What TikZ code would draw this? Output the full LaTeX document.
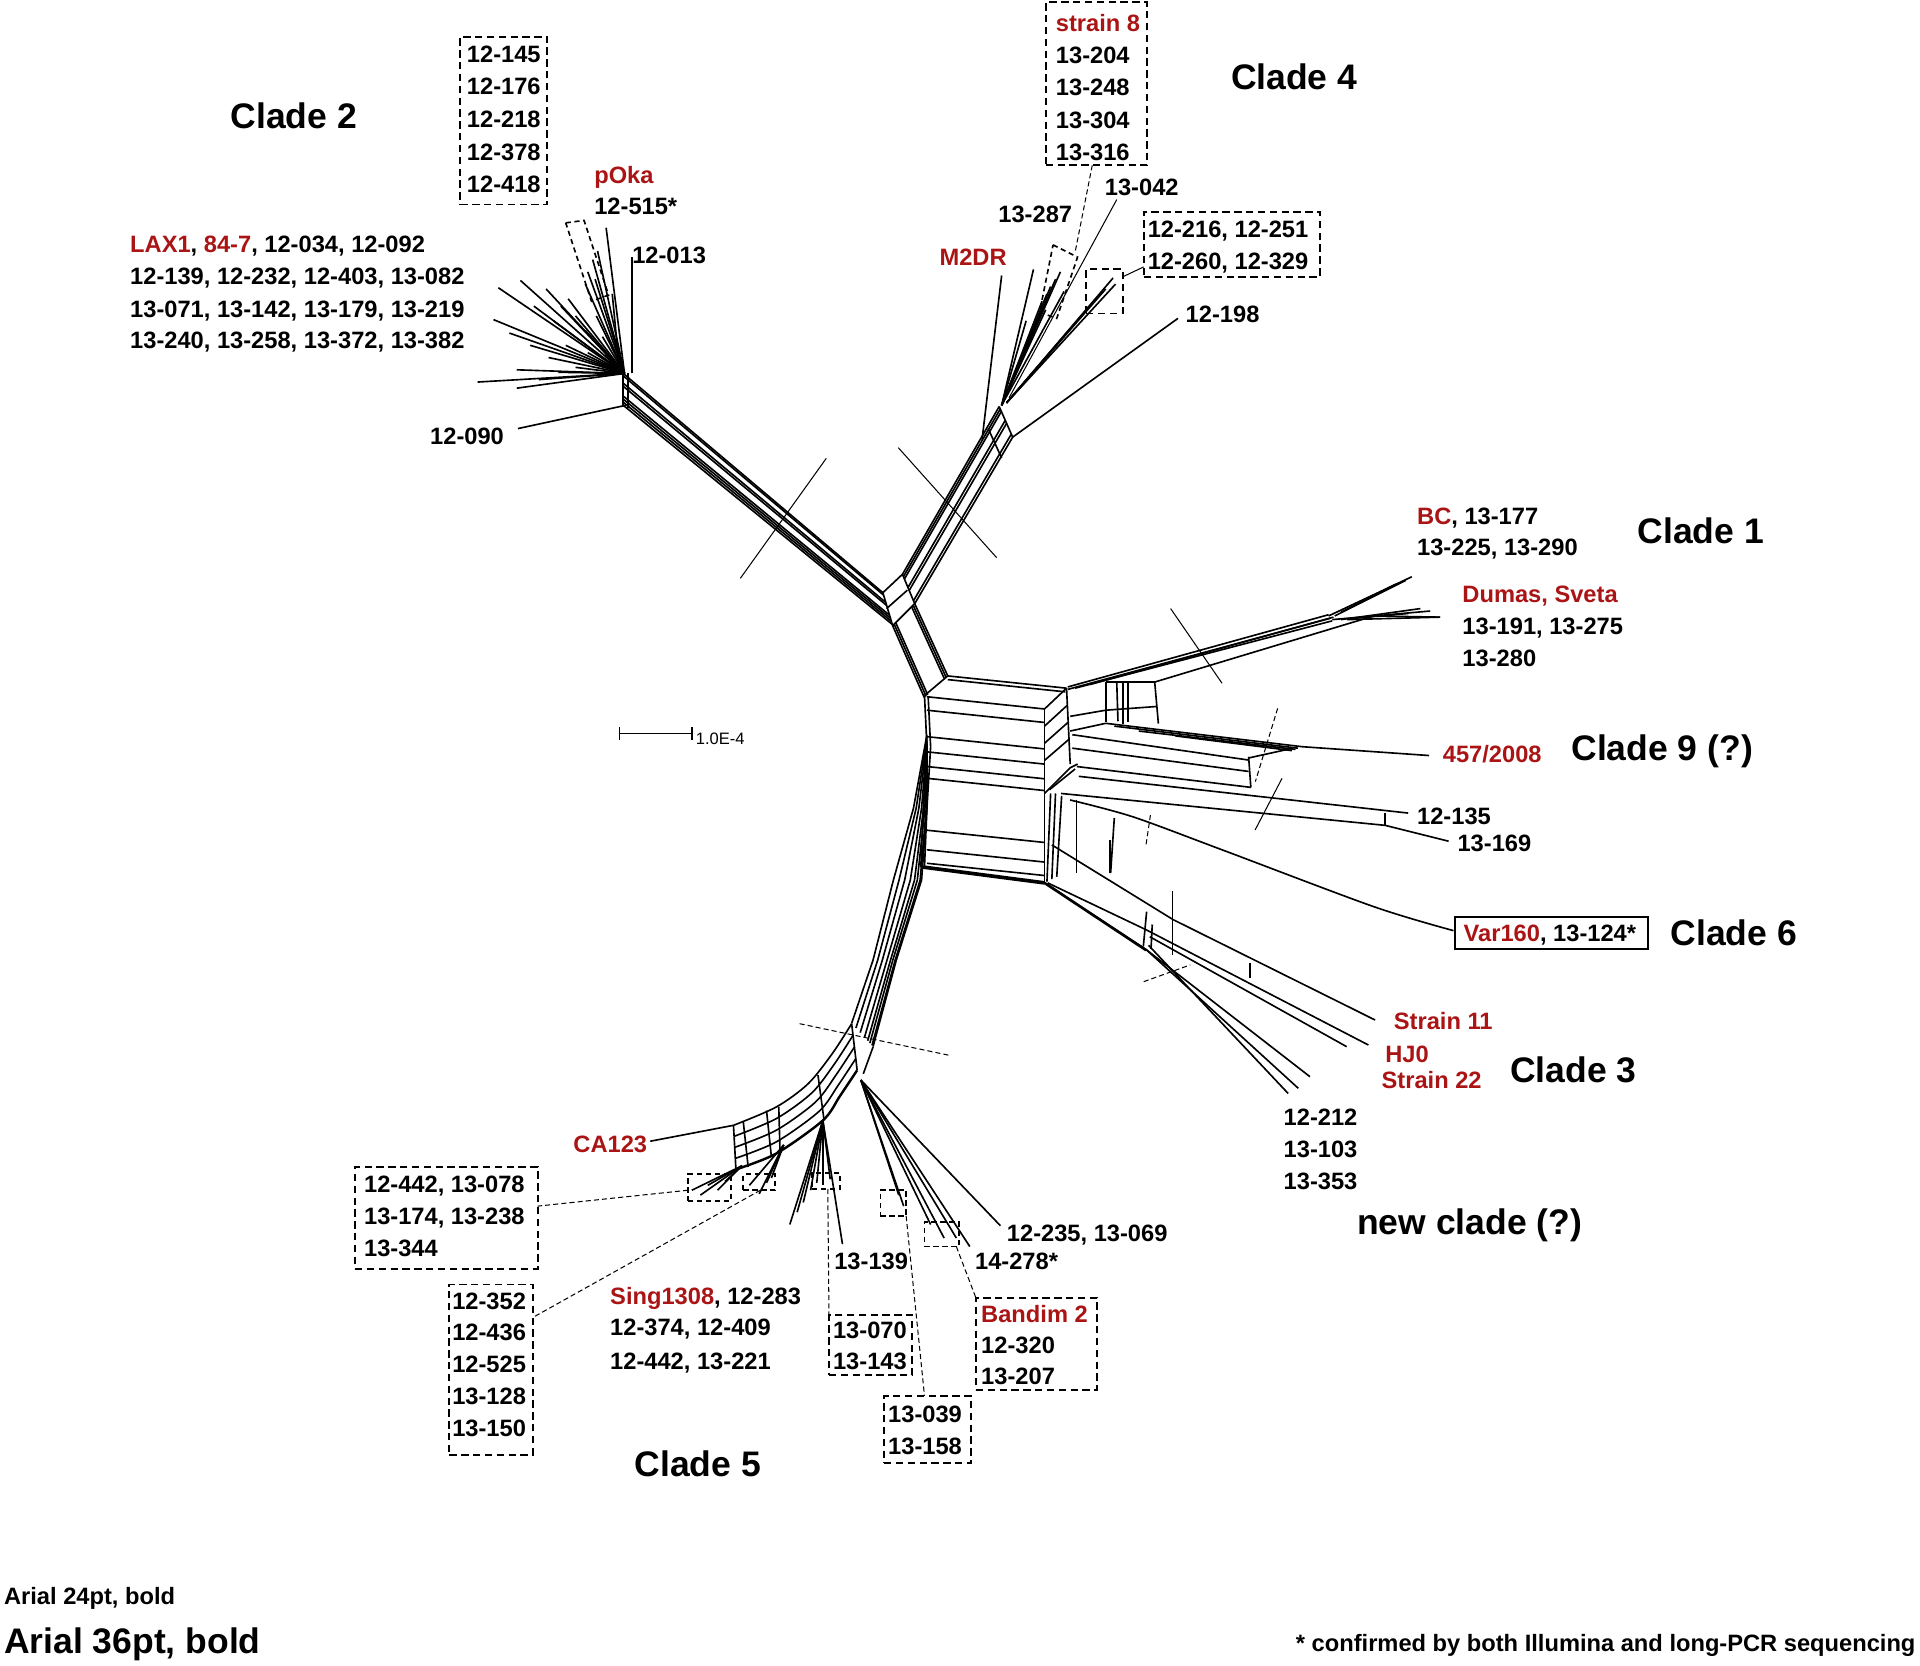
\documentclass[tikz,border=0pt]{standalone}
\usepackage{fontspec}
\setmainfont{Liberation Sans}
\usetikzlibrary{calc,fit}
\definecolor{cred}{RGB}{170,20,20}
\newcommand\mydbox[5]{\coordinate (#1-a) at (#2,#3); \coordinate (#1-b) at (#4,#5); \node[dbox, fit=(#1-a)(#1-b)] (#1) {};}
\newcommand\mysbox[5]{\coordinate (#1-a) at (#2,#3); \coordinate (#1-b) at (#4,#5); \node[dbox, line width=0.8pt, dash pattern=on 2.6pt off 1.8pt, fit=(#1-a)(#1-b)] (#1) {};}
\begin{document}
\begin{tikzpicture}[x=0.6pt,y=-0.6pt,
  net/.style={line width=0.8pt, line join=round},
  thn/.style={line width=0.5pt},
  dcut/.style={line width=0.5pt, dash pattern=on 2.5pt off 1.5pt},
  dbox/.style={draw, line width=0.95pt, dash pattern=on 3.6pt off 2.2pt, inner sep=0pt},
  sbox/.style={line width=0.8pt, dash pattern=on 2.5pt off 1.8pt},
  lab/.style={font=\bfseries\fontsize{11.6}{13}\selectfont, inner sep=0pt, anchor=base west},
  clade/.style={font=\bfseries\fontsize{17.4}{20}\selectfont, inner sep=0pt, anchor=base west},
  tiny/.style={font=\fontsize{8.1}{9}\selectfont, inner sep=0pt, anchor=base west}]
\useasboundingbox (0,0) rectangle (1568,1360);

% ---------------- boxes ----------------
\mydbox{bc2}{376}{30}{447}{167}
\mydbox{bs8}{854}{2}{937}{135}
\mydbox{b1216}{934}{173}{1078}{226}
\mydbox{b1216s}{887}{220}{917}{256}
\mydbox{b442}{290}{953}{439}{1036}
\mydbox{b352}{367}{1049}{435}{1188}
\mydbox{b070}{677}{1074}{745}{1123}
\mydbox{b039}{722}{1140}{793}{1195}
\mydbox{bband}{797}{1060}{896}{1135}
\mysbox{s1}{562}{959}{597}{981}
\mysbox{s2}{607}{959}{633}{972}
\mysbox{s3}{663}{958}{686}{971}
\mysbox{s4}{719}{972}{740}{993}
\mysbox{s5}{755}{998}{783}{1018}
\coordinate (v-a) at (1188,749); \coordinate (v-b) at (1346,775);
\node[draw, line width=0.95pt, inner sep=0pt, fit=(v-a)(v-b)] (bvar) {};
\draw[sbox] (462,182)--(477,180)--(497,241)--(483,246)--cycle;
\draw[sbox] (860,200)--(880,210)--(863,260)--(849,255)--cycle;

% connectors of boxes
\coordinate (k287a) at (892,135);
\coordinate (k287) at (878,206);
\draw[dcut] (k287a) -- (k287);
\coordinate (k1a) at (917,226); \coordinate (k1b) at (934,218);
\draw[thn] (k1a) -- (k1b);
\coordinate (k2a) at (562,972); \coordinate (k2b) at (439,985);
\draw[dcut] (k2a) -- (k2b);
\coordinate (k3a) at (621,972); \coordinate (k3b) at (435,1076);
\draw[dcut] (k3a) -- (k3b);
\coordinate (k4a) at (676,971); \coordinate (k4b) at (677,1074);
\draw[dcut] (k4a) -- (k4b);
\coordinate (k5a) at (740,993); \coordinate (k5b) at (755,1140);
\draw[dcut] (k5a) -- (k5b);
\coordinate (k6a) at (781,1018); \coordinate (k6b) at (797,1060);
\draw[dcut] (k6a) -- (k6b);

% ---------------- Clade 2 ----------------
\coordinate (f2) at (510,305);
\foreach \p in {(407,235),(425,229),(446,236),(464,244),(403,261),(390,312),(422,302),(422,317),(436,250),
  (452,262),(470,258),(433,282),(448,292),(462,282),(478,270),(487,258),(440,310),(456,304),(470,300),(480,288),(492,275),(416,272),(458,250),(494,290)}
  \draw[net] (f2) -- \p;
\foreach \p in {(484,212),(480,222),(488,205),(478,232),(486,228)} \draw[net] (f2) -- \p;
\draw[net] (f2) -- (495,186);
\draw[net] (506,303) -- (500,240);
\draw[net] (516,305) -- (516,210);
\draw[net] (509,303) -- (509,331);
\draw[net] (513,305) -- (513,333);
\draw[net] (511,331) -- (423,350);
\foreach \d in {0,2,8,10.5,18.5,21,23.5,26}
  \draw[net] (509,{305+\d}) -- ({721+0.3*\d},{484+\d});
\draw[thn] (604.6,472.3) -- (674.8,374.3);

% junction box between clade 2 and clade 4
\draw[net] (721,484)--(737,469)--(747,493)--(729,511)--cycle;
\draw[net] (724,497)--(741,482);
\foreach \t in {0,0.07,0.14,0.86,0.93,1}
  \draw[net] ({729+18*\t},{511-18*\t}) -- ({755+19*\t},{570-18*\t});

% ---------------- Clade 4 ----------------
\foreach \t in {0,0.08,0.16,0.45,0.55,0.9,1}
  \draw[net] ({737+10*\t},{469+24*\t}) -- ({816+11*\t},{332+25*\t});
\draw[net] (816,332)--(827,357);
\draw[net] (807,350)--(818,374);
\draw[thn] (733.6,365.6) -- (813.9,455.4);
\draw[net] (802,359) -- (818,225);
\draw[net] (827,357) -- (962,260);
\coordinate (f4) at (818,331);
\foreach \p in {(844,220),(851,246),(855,240),(858,234),(862,228),(866,222),(869,238),(854,253),(838,262)}
  \draw[net] (f4) -- \p;
\draw[thn] (824,325) -- (912,163);
\foreach \p in {(909,227),(911,232),(903,236),(896,243),(890,250)} \draw[net] (822,329) -- \p;

% ---------------- central box ----------------
\draw[net] (774,552)--(871,562);
\draw[net] (774,555)--(870,565);
\draw[net] (774,552)--(755,568);
\draw[net] (755,568)--(757,610)--(754,660)--(752,708);
\draw[net] (758,569)--(760,610)--(757,660)--(755,708);
\foreach \a in {569,580,601.6,614,626,635.6,678,694,705}
  \draw[net] (757,\a) -- (853,{\a+10});
\draw[line width=1.8pt] (753,708) -- (853,721);
\draw[net] (853,579) -- (853,721);
\draw[net] (871,562) -- (874,624);
\foreach \o in {0,14,28,42} \draw[net] (853,{579+\o}) -- ({871+0.04*\o},{562+\o});
\draw[net] (853,648)--(874,627)--(880,624);
\draw[net] (857,645)--(878,628);
\draw[net] (858,648)--(855,720);
\draw[net] (862,648)--(859,718);
\draw[net] (867,650)--(863,716);

% ---------------- Clade 1 ----------------
\draw[net] (872,561)--(1085,502);
\draw[net] (872,563)--(1086,505);
\draw[net] (878,562)--(1088,507);
\draw[net] (890,559)--(1089,504);
\draw[net] (903,557)--(943,557);
\draw[net] (874,585)--(903,580)--(944,577);
\draw[net] (903,557)--(903,590);
\draw[net] (912,557)--(913,589);
\draw[net] (917,557)--(917,591);
\draw[net] (921,557)--(921,590);
\draw[net] (943,557)--(946,591);
\draw[net] (943,557)--(1122,503)--(1176,504);
\draw[net] (1085,503)--(1153,471);
\draw[net] (1090,503)--(1148,474);
\draw[net] (1095,500)--(1140,477);
\draw[net] (1088,506)--(1168,499);
\draw[net] (1095,506)--(1160,497);
\draw[net] (1100,506)--(1176,504);
\draw[net] (1105,505)--(1150,501);
\draw[thn] (956,497) -- (998,558);

% ---------------- Clade 9 ----------------
\draw[net] (874,597)--(903,590.7)--(1063.5,609.8)--(1167,617);
\draw[net] (910,593)--(1060,611);
\draw[net] (930,597)--(1058,612);
\draw[net] (960,601)--(1055,613);
\draw[net] (875.7,600)--(1019.7,620.7);
\draw[net] (875.7,611)--(1019.7,630);
\draw[net] (879.4,626)--(1021.5,643);
\draw[net] (1019.7,618)--(1021.5,643);
\draw[net] (1019.7,619)--(1056,611);
\draw[net] (881,634)--(1150,664);
\draw[net] (866.6,648)--(1131,674)--(1183,687);
\draw[net] (1131,664)--(1131,674);
\draw[dcut] (1043.4,578.5) -- (1025.2,638.3);
\draw[thn] (1047,635.6) -- (1025,677.8);

% ---------------- Clade 6 ----------------
\draw[net] plot[smooth] coordinates {(873.9,653.3) (925,667) (998,694) (1121.8,740.4) (1187,760)};
\draw[dcut] (939.5,665.6) -- (935.9,690);

% ---------------- Clade 3 ----------------
\draw[net] (859,690)--(958,751)--(1123,833);
\draw[net] (855.6,721)--(936.4,759.5)--(1117.5,853.4);
\draw[net] (939,765)--(1099.8,854.8);
\draw[line width=1.3pt] (853,721)--(936,776);
\draw[net] (857.5,724)--(936.4,775.8)--(1060.3,888.8);
\draw[net] (936.4,775.8)--(1069.8,879.3);
\draw[net] (938,772)--(1052,893);
\draw[net] (906.5,686)--(906.5,713);
\draw[net] (879,653)--(879,713);
\draw[net] (910,668)--(907,713);
\draw[net] (936.4,744.5)--(933.7,773);
\draw[net] (941,755)--(940,775);
\draw[net] (1020.8,786.7)--(1020.8,799);
\draw[thn] (957.7,728) -- (957.7,780);
\draw[dcut] (934,801.7) -- (972,788);

% ---------------- Clade 5 ----------------
\foreach \s in {0,0.2,0.4,0.6,0.75,0.85,0.95,1}
  \draw[net] (757,{600+10*\s}) -- ({746+11*\s},660) -- ({729.6+23*\s},718.7) -- ({713+19*\s},784) -- ({695.5+17.5*\s},{835.7+19*\s});
\draw[net] (695.5,836)--(700,874);
\draw[net] (713,855)--(705,877);
\draw[dcut] (653,836) -- (776,862);
\draw[net] plot[smooth] coordinates {(695.5,836) (680,860) (660,885) (634,904) (599,919)};
\draw[net] plot[smooth] coordinates {(696.6,845.5) (681.5,868.8) (663,892.5) (634,913.5) (599.5,928)};
\draw[net] plot[smooth] coordinates {(697.8,855) (683,877.5) (666,900) (634,923) (600,937)};
\draw[net] plot[smooth] coordinates {(698.9,864.5) (684.5,886.3) (669,907.5) (634,932.5) (600.5,946)};
\draw[line width=1.2pt] plot[smooth] coordinates {(700,874) (686,895) (672,915) (634,942) (601,955)};
\draw[net] (599,919)--(601,955);
\draw[net] (607,916)--(611,953);
\draw[net] (626,907)--(630,945);
\draw[net] (636,904)--(637,940);
\draw[net] (668,878)--(673,915);
\draw[net] (599,919)--(531,932);
\foreach \p in {(565,972),(572,976),(578,968),(586,972),(592,965)} \draw[net] (606,952) -- \p;
\foreach \p in {(612,968),(620,975),(626,966),(630,962)} \draw[net] (640,935) -- \p;
\foreach \p in {(645,1000),(651,990),(656,982),(662,972),(667,966),(672,968),(678,963),(688,1016)} \draw[net] (672,915) -- \p;
\foreach \p in {(738,985),(734,976),(760,1000),(771,1011),(781,1011),(792,1018),(817,1001)} \draw[net] (703,882) -- \p;

% ---------------- scale bar ----------------
\coordinate (sb1) at (506,599); \coordinate (sb2) at (565,599);
\draw[line width=0.8pt] (sb1) -- (sb2);
\draw[line width=0.8pt] (506,594) -- (506,604);
\draw[line width=0.8pt] (565,594) -- (565,604);
\node[tiny] (sbl) at (568,608) {1.0E-4};

% ---------------- labels ----------------
\node[clade] (cl2) at (188,105) {Clade 2};
\node[lab] (t1) at (381,51) {12-145};
\node[lab] (t2) at (381,77) {12-176};
\node[lab] (t3) at (381,104) {12-218};
\node[lab] (t4) at (381,131) {12-378};
\node[lab] (t5) at (381,157) {12-418};
\node[lab,text=cred] (poka) at (485,150) {pOka};
\node[lab] (t515) at (485,175) {12-515*};
\node[lab] (t013) at (516,215) {12-013};
\node[lab] (lax1) at (106,206) {{\color{cred}LAX1}, {\color{cred}84-7}, 12-034, 12-092};
\node[lab] (lax2) at (106,232) {12-139, 12-232, 12-403, 13-082};
\node[lab] (lax3) at (106,259) {13-071, 13-142, 13-179, 13-219};
\node[lab] (lax4) at (106,285) {13-240, 13-258, 13-372, 13-382};
\node[lab] (t090) at (351,363) {12-090};

\node[clade] (cl4) at (1005,73) {Clade 4};
\node[lab,text=cred] (s8) at (862,26) {strain 8};
\node[lab] (t204) at (862,52) {13-204};
\node[lab] (t248) at (862,78) {13-248};
\node[lab] (t304) at (862,105) {13-304};
\node[lab] (t316) at (862,131) {13-316};
\node[lab] (t042) at (902,160) {13-042};
\node[lab] (t287) at (815,182) {13-287};
\node[lab] (t216) at (937,194) {12-216, 12-251};
\node[lab] (t260) at (937,220) {12-260, 12-329};
\node[lab,text=cred] (m2dr) at (767,217) {M2DR};
\node[lab] (t198) at (968,263) {12-198};

\node[lab] (bc) at (1157,428) {{\color{cred}BC}, 13-177};
\node[lab] (t225) at (1157,454) {13-225, 13-290};
\node[clade] (cl1) at (1337,444) {Clade 1};
\node[lab,text=cred] (dumas) at (1194,492) {Dumas, Sveta};
\node[lab] (t191) at (1194,518) {13-191, 13-275};
\node[lab] (t280) at (1194,544) {13-280};
\node[lab,text=cred] (t457) at (1178,623) {457/2008};
\node[clade] (cl9) at (1283,621) {Clade 9 (?)};
\node[lab] (t135) at (1157,673) {12-135};
\node[lab] (t169) at (1190,695) {13-169};
\node[lab] (var) at (1195,769) {{\color{cred}Var160}, 13-124*};
\node[clade] (cl6) at (1364,772) {Clade 6};
\node[lab,text=cred] (st11) at (1138,841) {Strain 11};
\node[lab,text=cred] (hj0) at (1131,868) {HJ0};
\node[lab,text=cred] (st22) at (1128,889) {Strain 22};
\node[clade] (cl3) at (1233,884) {Clade 3};
\node[lab] (t212) at (1048,919) {12-212};
\node[lab] (t103) at (1048,945) {13-103};
\node[lab] (t353) at (1048,971) {13-353};
\node[clade] (clnew) at (1108,1008) {new clade (?)};

\node[lab,text=cred] (ca123) at (468,941) {CA123};
\node[lab] (u1) at (297,974) {12-442, 13-078};
\node[lab] (u2) at (297,1000) {13-174, 13-238};
\node[lab] (u3) at (297,1026) {13-344};
\node[lab] (w1) at (369,1069) {12-352};
\node[lab] (w2) at (369,1095) {12-436};
\node[lab] (w3) at (369,1121) {12-525};
\node[lab] (w4) at (369,1147) {13-128};
\node[lab] (w5) at (369,1173) {13-150};
\node[lab] (sing) at (498,1065) {{\color{cred}Sing1308}, 12-283};
\node[lab] (sing2) at (498,1091) {12-374, 12-409};
\node[lab] (sing3) at (498,1118) {12-442, 13-221};
\node[lab] (t139) at (681,1037) {13-139};
\node[lab] (t070) at (680,1093) {13-070};
\node[lab] (t143) at (680,1118) {13-143};
\node[lab] (t039) at (725,1162) {13-039};
\node[lab] (t158) at (725,1188) {13-158};
\node[lab] (t235) at (822,1014) {12-235, 13-069};
\node[lab] (t278) at (796,1037) {14-278*};
\node[lab,text=cred] (band) at (801,1080) {Bandim 2};
\node[lab] (t320) at (801,1105) {12-320};
\node[lab] (t207) at (801,1131) {13-207};
\node[clade] (cl5) at (518,1206) {Clade 5};

\node[lab] (f24) at (3,1310) {Arial 24pt, bold};
\node[clade] (f36) at (3,1350) {Arial 36pt, bold};
\node[lab] (foot) at (1058,1349) {* confirmed by both Illumina and long-PCR sequencing};
\end{tikzpicture}
\end{document}
